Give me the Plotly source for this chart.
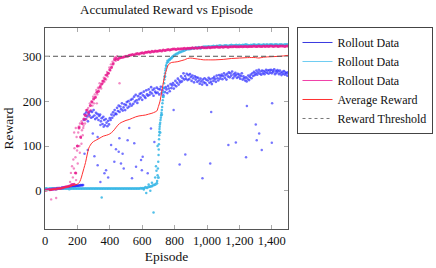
import plotly.graph_objects as go

# ---------------- data ----------------
blue_ep = list(range(0, 1501, 5))
blue_val = [
    3, 2, 4, 3, 3, 4, 2, 4, 3, 5, 4, 4, 5, 4, 5, 6, 5, 6, 6, 5,
    6, 7, 6, 7, 7, 8, 7, 8, 8, 9, 9, 8, 9, 10, 10, 10, 11, 10, 11, 11,
    12, 11, 12, 12, 13, 12, 13, 13,
    158, 171, 160, 175, 166, 155, 172, 168, 178, 163,
    176, 165, 180, 168, 160, 174, 163, 171, 158, 167,
    170, 155, 162, 149, 165, 158, 146, 160, 152, 144,
    156, 148, 162, 158, 170, 163, 175, 168, 180, 172,
    171, 185, 178, 190, 176, 188, 182, 195, 179, 186,
    193, 180, 191, 198, 185, 200, 188, 194, 203, 190,
    205, 194, 210, 199, 214, 202, 196, 211, 204, 216,
    208, 218, 203, 213, 221, 210, 207, 224, 215, 212,
    226, 214, 220, 231, 217, 225, 212, 228, 221, 218,
    230, 219, 227, 215, 226, 232, 218, 224, 213, 229,
    220, 231, 226, 218, 234, 228, 222, 238, 229, 235,
    240, 228, 236, 245, 233, 241, 250, 237, 246, 242,
    255, 244, 251, 262, 248, 256, 250, 261, 247, 258,
    249, 260, 254, 245, 257, 251, 242, 255, 248, 253,
    243, 252, 246, 239, 250, 244, 237, 248, 242, 251,
    240, 248, 236, 246, 252, 241, 249, 243, 238, 251,
    245, 254, 249, 243, 257, 251, 246, 258, 250, 255,
    259, 249, 256, 262, 252, 258, 248, 261, 255, 264,
    253, 262, 257, 266, 251, 260, 255, 263, 258, 252,
    261, 254, 259, 250, 256, 262, 248, 255, 251, 246,
    253, 244, 250, 257, 247, 254, 259, 251, 262, 256,
    265, 258, 262, 268, 259, 264, 270, 261, 266, 259,
    268, 262, 267, 260, 265, 270, 263, 268, 261, 269,
    264, 270, 262, 268, 265, 271, 260, 267, 263, 269,
    266, 260, 268, 263, 258, 265, 261, 267, 259, 264,
    262, 257, 264,
]
blue_out_ep = [244, 264, 295, 305, 325, 325, 342, 362, 367, 377, 408, 428, 438,
               455, 459, 469, 479, 486, 510, 537, 551, 562, 593, 598, 603, 634,
               654, 675, 342, 794, 831, 866, 972, 1020, 1026, 1132, 1178, 1241,
               1246, 1301, 1307, 1322, 1338, 1400, 1402, 390, 520]
blue_out_val = [83, 91, 128, 77, 57, 120, 147, 143, 39, 46, 102, 65, 93,
                87, 117, 61, 83, 50, 113, 28, 106, 54, 69, 46, 76, 39,
                139, 109, 20, 180, 59, 81, 28, 61, 176, 102, 108, 75,
                189, 148, 113, 128, 91, 107, 195, 30, 140]

cyan_ep = list(range(0, 1501, 10))
cyan_val = [
    5, 5, 4, 5, 5, 5, 5, 4, 5, 5, 5, 5, 5, 5, 5, 4, 5, 5, 5, 5,
    5, 5, 5, 5, 5, 5, 5, 5, 5, 5, 5, 5, 5, 5, 5, 5, 5, 5, 5, 5,
    5, 5, 5, 5, 5, 5, 5, 5, 5, 5, 5, 5, 5, 5, 5, 5, 5, 5, 5, 6,
    6, 6, 8, 7, 9, 10, 11, 13, 14, 17,
    30, 130, 170, 210, 255, 278, 288, 293, 296, 300,
    303, 305, 307, 309, 310, 312, 313, 315, 316, 316,
    317, 318, 318, 319, 319, 320, 318, 320, 321, 321,
    321, 322, 321, 322, 323, 322, 323, 323, 324, 323,
    323, 324, 324, 323, 324, 325, 324, 324, 325, 324,
    325, 324, 325, 325, 326, 325, 324, 325, 325, 326,
    325, 325, 326, 325, 325, 326, 325, 326, 325, 326,
    326, 325, 326, 326, 325, 326, 326, 325, 326, 326,
    326,
]
cyan_extra_ep = [692, 695, 697, 699, 701, 702, 703, 704, 705, 706, 707, 708, 709,
                 711, 713, 715, 717, 719, 721, 723, 725, 727, 729, 731, 733, 735,
                 737, 739, 741, 743, 745, 748, 752, 756, 765, 775, 785,
                 610, 625, 650, 350, 670, 680, 688, 640, 660, 685, 695]
cyan_extra_val = [22, 35, 50, 65, 80, 92, 104, 115, 124, 132, 138, 143, 148,
                  152, 158, 163, 168, 174, 180, 187, 195, 202, 210, 220, 230, 240,
                  248, 255, 262, 268, 273, 280, 285, 290, 292, 295, 298,
                  3, -5, 0, -15, -48, 30, 45, 14, 18, 55, 100]

mag_ep = list(range(0, 1501, 10))
mag_val = [
    2, 2, 3, 3, 3, 4, 4, 4, 5, 5, 6, 7, 8, 9, 10,
    11, 12, 14, 15, 40, 100, 140, 120, 150, 160, 168, 180, 175, 190, 198,
    205, 208, 220, 222, 232, 238, 245, 250, 258, 262, 270, 275, 283, 292,
    295, 293, 296, 297, 298, 299, 300, 300, 302, 303, 304, 303, 305, 306, 305, 307,
    308, 307, 309, 309, 310, 309, 311, 310, 312, 311,
    312, 313, 312, 314, 313, 314, 315, 314, 315, 316,
    316, 315, 317, 316, 317, 317, 318, 317, 318, 318,
    318, 319, 318, 319, 318, 319, 319, 320, 319, 319,
    319, 320, 319, 320, 320, 320, 321, 320, 320, 321,
    320, 321, 321, 320, 321, 321, 321, 322, 321, 321,
    321, 322, 321, 322, 322, 321, 322, 322, 322, 323,
    322, 322, 323, 322, 322, 323, 322, 323, 322, 323,
    323, 322, 323, 323, 322, 323, 323, 323, 322, 323, 323,
]
mag_extra_ep = [155, 160, 163, 167, 172, 175, 178, 182, 185, 188, 192, 195, 198,
                202, 205, 208, 212, 213, 216, 222, 226, 233, 236, 243, 247, 253,
                257, 263, 267, 273, 277, 283, 287, 293, 297, 303, 307, 313, 317,
                323, 327, 333, 337, 343, 347, 353, 357, 363, 367, 373, 377, 383,
                387, 393, 397, 403, 407, 413, 417, 423, 427, 433, 437, 445, 455,
                460, 38, 69, 320, 215, 225, 180, 190, 200, 228, 238, 248]
mag_extra_val = [20, 40, 15, 55, 30, 70, 50, 95, 40, 75, 24, 120, 90,
                 61, 130, 143, 100, 143, 150, 118, 155, 124, 140, 170, 150, 180,
                 160, 170, 185, 165, 195, 180, 200, 190, 210, 195, 215, 210, 225,
                 215, 230, 228, 240, 235, 228, 245, 240, 252, 243, 258, 248, 265,
                 255, 262, 275, 268, 282, 277, 288, 285, 295, 298, 290, 300, 296,
                 240, -19, -16, 195, 85, 105, 130, 140, 100, 135, 145, 158]

avg_ep = [0, 50, 100, 150, 180, 200, 210, 220, 230, 240, 250, 260, 270, 280, 290,
          300, 320, 340, 360, 380, 400, 420, 440, 460, 480, 500, 520, 540, 560,
          580, 600, 620, 640, 660, 680, 690, 700, 710, 720, 730, 740, 750, 760,
          770, 780, 800, 820, 840, 860, 880, 900, 920, 940, 960, 980, 1000, 1050,
          1100, 1150, 1200, 1250, 1300, 1320, 1350, 1400, 1450, 1500]
avg_val = [0, 3, 6, 10, 13, 15, 18, 25, 37, 50, 63, 80, 95, 102, 107,
           110, 114, 118, 122, 124, 127, 133, 142, 150, 154, 157, 159, 162, 165,
           167, 168, 169, 171, 173, 176, 178, 188, 200, 220, 240, 258, 270, 280,
           284, 286, 287, 288, 290, 292, 295, 296, 295, 294, 293, 292, 292, 292,
           293, 295, 296, 297, 297, 296, 298, 299, 300, 302]

threshold = 300
x_range = [0, 1500]
y_range = [-85, 363]

C_BLUE = "#2b2bff"
C_CYAN = "#33b5e5"
C_MAG = "#e8168c"
C_RED = "#ff3030"
C_GRAY = "#555555"
FONT = "Liberation Serif"

fig = go.Figure()

def dots(x, y, color, size=2.6, opacity=0.85):
    fig.add_trace(go.Scatter(x=x, y=y, mode="markers", showlegend=False,
                             hoverinfo="skip",
                             marker=dict(color=color, size=size, opacity=opacity,
                                         line=dict(width=0))))

dots(blue_ep, blue_val, C_BLUE, size=2.7, opacity=0.7)
dots(blue_out_ep, blue_out_val, C_BLUE, size=2.5, opacity=0.65)
dots(cyan_ep, cyan_val, C_CYAN, size=3)
dots(cyan_extra_ep, cyan_extra_val, C_CYAN, size=2.5)
dots(mag_ep, mag_val, C_MAG, size=3)
dots(mag_extra_ep, mag_extra_val, C_MAG, size=2.4, opacity=0.5)

fig.add_trace(go.Scatter(x=avg_ep, y=avg_val, mode="lines", showlegend=False,
                         line=dict(color=C_RED, width=1, shape="spline")))
fig.add_trace(go.Scatter(x=x_range, y=[threshold, threshold], mode="lines",
                         showlegend=False,
                         line=dict(color=C_GRAY, width=1, dash="5px,3px")))

# legend entries
for name, col, dash in [("Rollout Data", "#3a3ae0", "solid"),
                        ("Rollout Data", "#6fcdf2", "solid"),
                        ("Rollout Data", "#f040a8", "solid"),
                        ("Average Reward", C_RED, "solid"),
                        ("Reward Threshold", "#777777", "3px,3px")]:
    fig.add_trace(go.Scatter(x=[None], y=[None], mode="lines", name=name,
                             line=dict(color=col, width=1, dash=dash)))

axis_common = dict(showline=True, linecolor="#555555", linewidth=1, mirror="ticks",
                   ticks="inside", ticklen=4, tickcolor="#aaaaaa", tickwidth=1,
                   showgrid=False, zeroline=False, automargin=False, tickangle=0,
                   tickfont=dict(family=FONT, size=12.5, color="#111111"))

fig.update_layout(
    width=436, height=268,
    margin=dict(l=45, r=148, t=28, b=39, autoexpand=False),
    paper_bgcolor="white", plot_bgcolor="white",
    font=dict(family=FONT, color="#111111"),
    title=dict(text="Accumulated Reward vs Episode", x=0.5, xref="paper",
               y=0.965, yref="container", yanchor="middle",
               font=dict(family=FONT, size=13, color="#111111")),
    xaxis=dict(range=x_range, dtick=200, tick0=0, tickformat=",d",
               title=dict(text="Episode", font=dict(family=FONT, size=13.5), standoff=4),
               **axis_common),
    yaxis=dict(range=y_range, tickvals=[0, 100, 200, 300],
               title=dict(text="Reward", font=dict(family=FONT, size=13.5), standoff=6),
               **axis_common),
    legend=dict(x=1.035, y=1.005, xanchor="left", yanchor="top",
                bordercolor="#444444", borderwidth=1, bgcolor="white",
                font=dict(family=FONT, size=12, color="#111111"),
                tracegroupgap=0, itemwidth=30),
)

fig.write_html("out.html", post_script="document.body.style.margin='0';",
               config={"displayModeBar": False})
